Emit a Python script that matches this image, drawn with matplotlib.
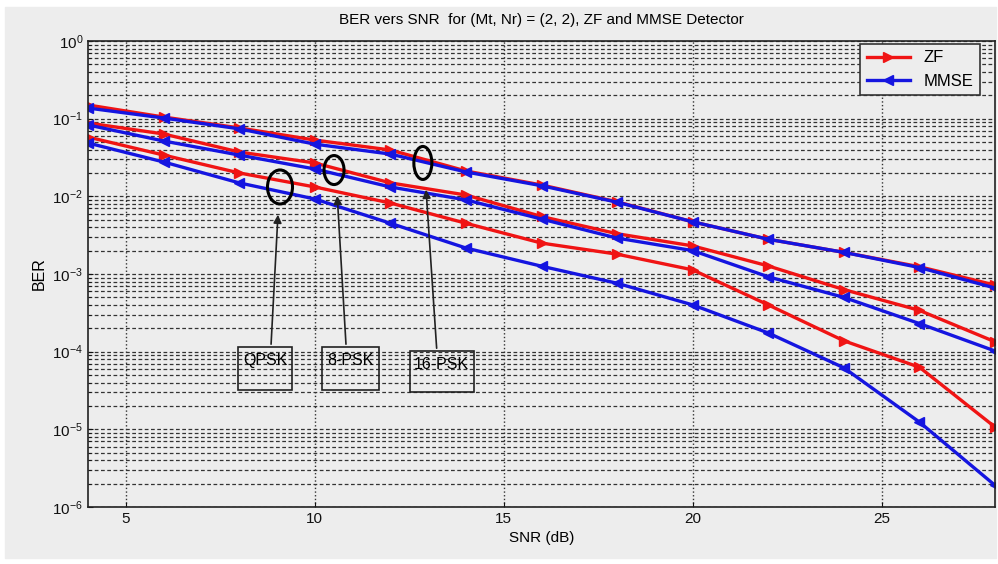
import matplotlib
matplotlib.use("Agg")
import matplotlib.pyplot as plt
from matplotlib.patches import Ellipse, Rectangle
from matplotlib.transforms import ScaledTranslation

plt.rcParams['font.family'] = ['Liberation Sans', 'DejaVu Sans']
plt.rcParams['mathtext.fontset'] = 'custom'
plt.rcParams['mathtext.rm'] = 'Liberation Sans'

# SNR axis (dB)
snr = [4, 6, 8, 10, 12, 14, 16, 18, 20, 22, 24, 26, 28]

# BER curves
ber_zf_qpsk = [0.058, 0.034, 0.020, 0.0132, 0.0082, 0.0045, 0.0025, 0.0018,
               0.00113, 0.0004, 0.000138, 0.000063, 0.0000107]
ber_zf_8psk = [0.088, 0.0635, 0.0372, 0.0269, 0.0149, 0.0104, 0.0055, 0.0033,
               0.0023, 0.00127, 0.00063, 0.00034, 0.000134]
ber_zf_16psk = [0.150, 0.105, 0.076, 0.053, 0.0395, 0.0212, 0.014, 0.0085,
                0.0047, 0.0028, 0.0019, 0.00124, 0.00072]
ber_mmse_qpsk = [0.0486, 0.0277, 0.0149, 0.00925, 0.0045, 0.00216, 0.00126,
                 0.00076, 0.0004, 0.000174, 0.000062, 0.0000124, 0.0000019]
ber_mmse_8psk = [0.083, 0.0516, 0.034, 0.0225, 0.0132, 0.009, 0.0051, 0.0029,
                 0.0020, 0.00092, 0.0005, 0.00023, 0.000102]
ber_mmse_16psk = [0.137, 0.102, 0.074, 0.047, 0.035, 0.0206, 0.0137, 0.0084,
                  0.0047, 0.0028, 0.0019, 0.00121, 0.00066]

x_ticks = [5, 10, 15, 20, 25]
y_ticks = [1e-6, 1e-5, 1e-4, 1e-3, 1e-2, 1e-1, 1e0]

# annotation labels: text, ellipse centre, arrow tip, arrow tail, box (x0, x1, y0, y1)
mod_labels = ['QPSK', '8-PSK', '16-PSK']
ellipse_xy = [(9.08, 0.0132), (10.51, 0.0218), (12.86, 0.0269)]
ellipse_size = [(0.25, 0.34), (0.20, 0.29), (0.18, 0.33)]
arrow_tip = [(9.03, 0.0063), (10.59, 0.0110), (12.94, 0.0132)]
arrow_tail = [(8.84, 1.15e-4), (10.83, 1.15e-4), (13.23, 1.02e-4)]
boxes = [(7.98, 9.41, 3.25e-5, 1.15e-4), (10.18, 11.69, 3.25e-5, 1.15e-4),
         (12.51, 14.21, 3.0e-5, 1.02e-4)]
text_y = [7.8e-5, 7.8e-5, 6.8e-5]

bg = '#ededed'
fig = plt.figure(figsize=(9.98, 5.64), dpi=100, facecolor='white')
# grey panel like the matlab window
fig.patches.append(Rectangle((5 / 998, 6 / 564), 991 / 998, 551 / 564,
                             transform=fig.transFigure, color=bg, zorder=-10))
ax = fig.add_axes([0.0882, 0.1011, 0.9088, 0.8262])
ax.set_facecolor(bg)

zf_style = dict(color='#f01414', marker='>', lw=2.4, ms=7)
mmse_style = dict(color='#1515e0', marker='<', lw=2.4, ms=7)

ax.semilogy(snr, ber_zf_16psk, label='ZF', **zf_style)
ax.semilogy(snr, ber_zf_8psk, **zf_style)
ax.semilogy(snr, ber_zf_qpsk, **zf_style)
ax.semilogy(snr, ber_mmse_16psk, label='MMSE', **mmse_style)
ax.semilogy(snr, ber_mmse_8psk, **mmse_style)
ax.semilogy(snr, ber_mmse_qpsk, **mmse_style)

ax.set_xlim(4, 28)
ax.set_ylim(1e-6, 1)
ax.set_xticks(x_ticks)
ax.set_yticks(y_ticks)
ax.yaxis.set_minor_formatter(matplotlib.ticker.NullFormatter())

# matlab style grid
ax.grid(True, axis='x', which='major', ls=':', lw=1.0, color='#333333')
ax.grid(True, axis='y', which='both', ls=(0, (3, 2)), lw=0.9, color='#333333')
ax.tick_params(which='both', direction='in', labelsize=11, colors='#111111')
ax.tick_params(axis='x', which='minor', bottom=False)
for s in ax.spines.values():
    s.set_linewidth(1.2)
    s.set_color('#222222')

ax.set_title('BER vers SNR  for (Mt, Nr) = (2, 2), ZF and MMSE Detector',
             fontsize=11, pad=12)
ax.set_xlabel('SNR (dB)', fontsize=11, labelpad=4)
ax.set_ylabel('BER', fontsize=11.5, labelpad=4)

leg = ax.legend(loc='upper right', bbox_to_anchor=(0.9835, 0.994),
                borderaxespad=0, fontsize=12, handlelength=2.6,
                fancybox=False, framealpha=1, facecolor=bg,
                edgecolor='#333333')
leg.get_frame().set_linewidth(1.2)

# ellipses, arrows and labelled boxes
for i, lab in enumerate(mod_labels):
    ex, ey = ellipse_xy[i]
    w, h = ellipse_size[i]
    tr = fig.dpi_scale_trans + ScaledTranslation(ex, ey, ax.transData)
    ax.add_artist(Ellipse((0, 0), w, h, transform=tr, fill=False,
                          lw=2.2, ec='black', zorder=5))
    ax.annotate('', xy=arrow_tip[i], xytext=arrow_tail[i],
                arrowprops=dict(arrowstyle='-|>', color='#222222', lw=1.2,
                                mutation_scale=12), zorder=5)
    x0, x1, y0, y1 = boxes[i]
    ax.add_patch(Rectangle((x0, y0), x1 - x0, y1 - y0, fill=False,
                           lw=1.2, ec='#222222', zorder=5))
    ax.text((x0 + x1) / 2, text_y[i], lab, ha='center', va='center',
            fontsize=11.5, zorder=6)

fig.savefig('out.png', dpi=100, facecolor=fig.get_facecolor())
